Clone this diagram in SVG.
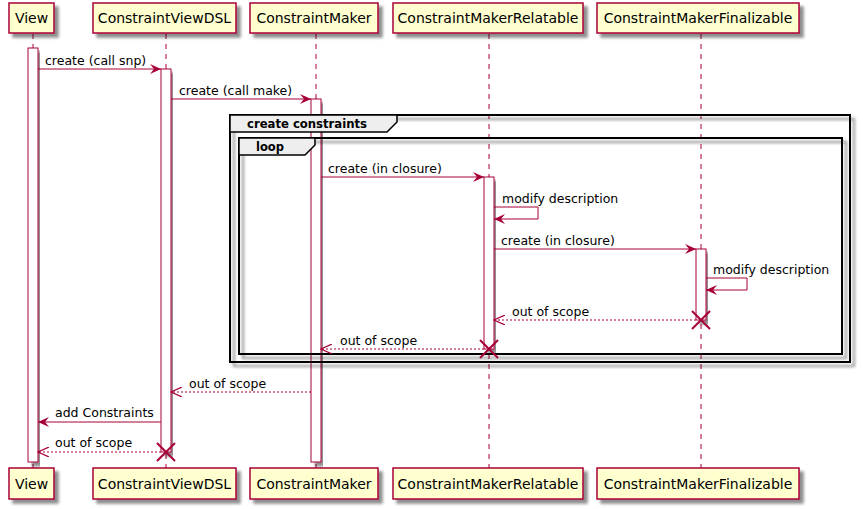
<svg xmlns="http://www.w3.org/2000/svg" width="863" height="509" viewBox="0 0 863 509">
<defs>
<filter id="sh" x="-10%" y="-10%" width="130%" height="140%">
<feGaussianBlur in="SourceAlpha" stdDeviation="1.8"/>
<feOffset dx="4" dy="4" result="b"/>
<feComponentTransfer><feFuncA type="linear" slope="0.45"/></feComponentTransfer>
<feMerge><feMergeNode/><feMergeNode in="SourceGraphic"/></feMerge>
</filter>
<marker id="ah" viewBox="0 0 12 10" refX="11" refY="5" markerWidth="12" markerHeight="10" markerUnits="userSpaceOnUse" orient="auto">
<path d="M0,0 L11,5 L0,10 L4,5 Z" fill="#A80036"/>
</marker>
<marker id="ao" viewBox="0 0 12 10" refX="11" refY="5" markerWidth="12" markerHeight="10" markerUnits="userSpaceOnUse" orient="auto">
<path d="M0,0 L11,5 L0,10" fill="none" stroke="#A80036" stroke-width="1.2"/>
</marker>
</defs>
<style>
.p rect{fill:#FEFECE;stroke:#A80036;stroke-width:1.5}
.p text{font-family:"DejaVu Sans",sans-serif;font-size:14px;fill:#000;text-anchor:middle}
.life{stroke:#A80036;stroke-width:1;stroke-dasharray:5,5;fill:none}
.act{fill:#FFFFFF;stroke:#A80036;stroke-width:1}
.m{stroke:#A80036;stroke-width:1;fill:none;marker-end:url(#ah)}
.d{stroke:#A80036;stroke-width:1;fill:none;stroke-dasharray:2,2;marker-end:url(#ao)}
.x{stroke:#A80036;stroke-width:2}
.lbl{font-family:"DejaVu Sans",sans-serif;font-size:12.5px;fill:#000}
.fr{fill:none;stroke:#000;stroke-width:2}
.tab{fill:#EEEEEE;stroke:#000;stroke-width:1.5}
.ft{font-family:"DejaVu Sans",sans-serif;font-size:12px;font-weight:bold;fill:#000}
</style>

<g id="lifelines">
<line class="life" x1="33" y1="34" x2="33" y2="468"/>
<line class="life" x1="166" y1="34" x2="166" y2="468"/>
<line class="life" x1="316" y1="34" x2="316" y2="468"/>
<line class="life" x1="489" y1="34" x2="489" y2="468"/>
<line class="life" x1="701" y1="34" x2="701" y2="468"/>
</g>

<g id="activations">
<rect class="act" x="28" y="48" width="10" height="414" filter="url(#sh)"/>
<rect class="act" x="161" y="69" width="10" height="383" filter="url(#sh)"/>
<rect class="act" x="311" y="99" width="10" height="363" filter="url(#sh)"/>
</g>

<g id="frame-create-constraints">
<rect class="fr" x="230" y="115" width="620" height="247" filter="url(#sh)" fill="none"/>
<path class="tab" d="M230,115 H397 V122 L387,132 H230 Z"/>
<text class="ft" x="247" y="128" textLength="120" lengthAdjust="spacingAndGlyphs">create constraints</text>
</g>
<g id="frame-loop">
<rect class="fr" x="239" y="138" width="603" height="216" filter="url(#sh)" fill="none"/>
<path class="tab" d="M239,138 H315 V145 L305,155 H239 Z"/>
<text class="ft" x="256" y="151" textLength="28" lengthAdjust="spacingAndGlyphs">loop</text>
</g>

<g id="activations2">
<rect class="act" x="484" y="177" width="10" height="172" filter="url(#sh)"/>
<rect class="act" x="696" y="249" width="10" height="71" filter="url(#sh)"/>
</g>

<g id="connectors">
<line class="m" x1="38" y1="69" x2="161" y2="69"/>
<text class="lbl" x="45" y="65">create (call snp)</text>
<line class="m" x1="171" y1="99" x2="311" y2="99"/>
<text class="lbl" x="179" y="95">create (call make)</text>
<line class="m" x1="321" y1="177" x2="484" y2="177"/>
<text class="lbl" x="328" y="173">create (in closure)</text>
<path class="m" d="M494,207 H538 V219 H494"/>
<text class="lbl" x="502" y="203">modify description</text>
<line class="m" x1="494" y1="249" x2="696" y2="249"/>
<text class="lbl" x="501" y="245">create (in closure)</text>
<path class="m" d="M706,278 H747 V290 H706"/>
<text class="lbl" x="713" y="274">modify description</text>
<line class="d" x1="696" y1="320" x2="494" y2="320"/>
<text class="lbl" x="512" y="316">out of scope</text>
<line class="d" x1="484" y1="349" x2="321" y2="349"/>
<text class="lbl" x="340" y="345">out of scope</text>
<line class="d" x1="311" y1="392" x2="171" y2="392"/>
<text class="lbl" x="189" y="388">out of scope</text>
<line class="m" x1="161" y1="422" x2="38" y2="422"/>
<text class="lbl" x="55" y="417">add Constraints</text>
<line class="d" x1="161" y1="452" x2="38" y2="452"/>
<text class="lbl" x="55" y="447">out of scope</text>
<path class="x" d="M692,311 L710,329 M710,311 L692,329"/>
<path class="x" d="M480,340 L498,358 M498,340 L480,358"/>
<path class="x" d="M157,443 L175,461 M175,443 L157,461"/>
</g>

<g id="p-view" class="p"><rect x="9" y="3" width="45" height="30" filter="url(#sh)"/><text x="31.5" y="23">View</text></g>
<g id="p-dsl" class="p"><rect x="93" y="3" width="143" height="30" filter="url(#sh)"/><text x="164.5" y="23">ConstraintViewDSL</text></g>
<g id="p-maker" class="p"><rect x="250" y="3" width="128" height="30" filter="url(#sh)"/><text x="314" y="23">ConstraintMaker</text></g>
<g id="p-rel" class="p"><rect x="393" y="3" width="190" height="30" filter="url(#sh)"/><text x="488" y="23">ConstraintMakerRelatable</text></g>
<g id="p-fin" class="p"><rect x="597" y="3" width="202" height="30" filter="url(#sh)"/><text x="698" y="23">ConstraintMakerFinalizable</text></g>

<g id="p-view-b" class="p"><rect x="9" y="468" width="45" height="31" filter="url(#sh)"/><text x="31.5" y="489">View</text></g>
<g id="p-dsl-b" class="p"><rect x="93" y="468" width="143" height="31" filter="url(#sh)"/><text x="164.5" y="489">ConstraintViewDSL</text></g>
<g id="p-maker-b" class="p"><rect x="250" y="468" width="128" height="31" filter="url(#sh)"/><text x="314" y="489">ConstraintMaker</text></g>
<g id="p-rel-b" class="p"><rect x="393" y="468" width="190" height="31" filter="url(#sh)"/><text x="488" y="489">ConstraintMakerRelatable</text></g>
<g id="p-fin-b" class="p"><rect x="597" y="468" width="202" height="31" filter="url(#sh)"/><text x="698" y="489">ConstraintMakerFinalizable</text></g>
</svg>
